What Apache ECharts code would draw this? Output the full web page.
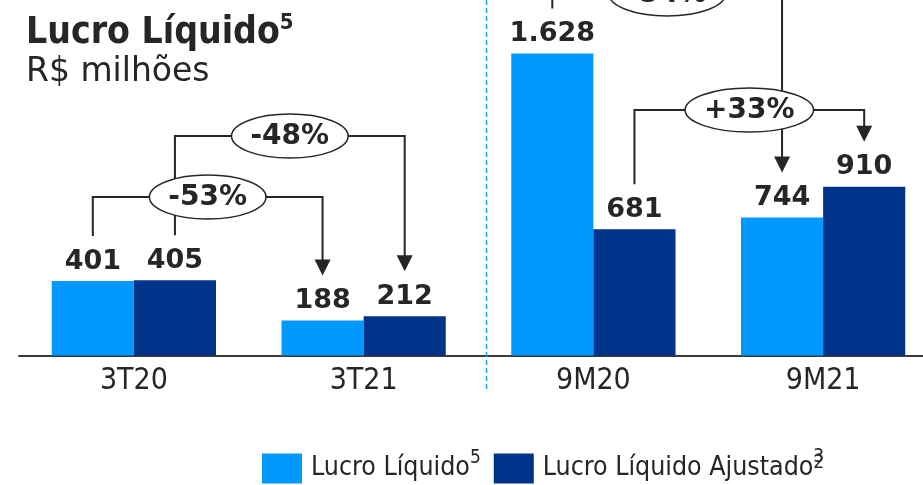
<!DOCTYPE html>
<html>
<head>
<meta charset="utf-8">
<script src="https://cdn.jsdelivr.net/npm/echarts@6/dist/echarts.min.js"></script>
<style>
  html, body { margin: 0; padding: 0; background: #fff; }
  #chart { width: 923px; height: 485px; }
</style>
</head>
<body>
<div id="chart"></div>
<script>
// dados do gráfico
const categories = ['3T20', '3T21', '9M20', '9M21'];
const lucroLiquido = [401, 188, 1628, 744];
const lucroAjustado = [405, 212, 681, 910];
const seriesNames = ['Lucro Líquido', 'Lucro Líquido Ajustado'];
// variações: de [categoria, série] para [categoria, série], nível em R$ milhões
const variations = [
    { label: '-53%', from: [0, 0], to: [1, 0], level: 854 },
    { label: '-48%', from: [0, 1], to: [1, 1], level: 1183 },
    { label: '-54%', from: [2, 0], to: [3, 0], level: 1949 },
    { label: '+33%', from: [2, 1], to: [3, 1], level: 1323 },
];

const colors = ['#0099ff', '#00338a'];
const ink = '#262626';

function fmt(v) {
    return String(v).replace(/\B(?=(\d{3})+(?!\d))/g, '.');
}

const myChart = echarts.init(document.getElementById('chart'), null, { renderer: 'canvas' });

const valueLabel = {
    show: true,
    position: 'top',
    distance: 6,
    formatter: function (p) { return fmt(p.value); },
    fontFamily: 'DejaVu Sans',
    fontWeight: 'bold',
    fontSize: 27,
    color: ink
};

const option = {
    animation: false,
    title: {
        text: 'Lucro Líquido{s|5}',
        subtext: 'R$ milhões',
        left: 21,
        top: 7,
        itemGap: 4,
        textStyle: {
            fontFamily: 'DejaVu Sans Condensed',
            fontWeight: 'bold',
            fontSize: 37,
            color: ink,
            rich: {
                s: { fontFamily: 'DejaVu Sans Condensed', fontWeight: 'bold', fontSize: 22, color: ink, verticalAlign: 'top', lineHeight: 42 }
            }
        },
        subtextStyle: {
            fontFamily: 'DejaVu Sans',
            fontSize: 33,
            color: ink
        }
    },
    legend: {
        left: 257,
        top: 443,
        itemWidth: 40,
        itemHeight: 30,
        itemGap: 13,
        icon: 'rect',
        data: seriesNames,
        formatter: function (name) {
            if (name === seriesNames[0]) return '{t|' + name + '}{s|5}';
            return '{t|' + name + '}{w|3}{s2|2}';
        },
        textStyle: {
            color: ink,
            padding: [0, 0, 0, 4],
            rich: {
                t: { fontFamily: 'DejaVu Sans Condensed', fontSize: 26.5, color: ink },
                s: { fontFamily: 'DejaVu Sans Condensed', fontSize: 19, color: ink, padding: [0, 0, 20, 0] },
                w: { fontFamily: 'DejaVu Sans Condensed', fontSize: 19, color: ink, width: 0, padding: [0, 0, 22, 0] },
                s2: { fontFamily: 'DejaVu Sans Condensed', fontSize: 19, color: ink, padding: [0, 0, 10, 0] }
            }
        }
    },
    grid: {
        left: 19,
        right: -15,
        top: 3,
        bottom: 129.5,
        containLabel: false,
        outerBoundsMode: 'none'
    },
    xAxis: {
        type: 'category',
        data: categories,
        axisLine: { show: true, lineStyle: { color: '#3a3a3a', width: 2 } },
        axisTick: { show: false },
        axisLabel: {
            margin: 11,
            fontFamily: 'DejaVu Sans Condensed',
            fontSize: 30,
            color: ink
        }
    },
    yAxis: {
        type: 'value',
        min: 0,
        max: 1900,
        show: false,
        splitLine: { show: false }
    },
    series: [
        {
            name: seriesNames[0],
            type: 'bar',
            data: lucroLiquido,
            barGap: 0,
            barCategoryGap: '28.5%',
            itemStyle: { color: colors[0] },
            label: valueLabel
        },
        {
            name: seriesNames[1],
            type: 'bar',
            data: lucroAjustado,
            barGap: 0,
            barCategoryGap: '28.5%',
            itemStyle: { color: colors[1] },
            label: valueLabel
        }
    ]
};

myChart.setOption(option);

// posição de uma barra (centro x, topo y) a partir das escalas do gráfico
const allSeries = [lucroLiquido, lucroAjustado];
function barPoint(cat, s) {
    const layout = myChart.getModel().getSeriesByIndex(s).getData().getItemLayout(cat);
    const cx = layout.x + layout.width / 2;
    const top = myChart.convertToPixel({ yAxisIndex: 0 }, allSeries[s][cat]);
    return [cx, top];
}

const measure = document.createElement('canvas').getContext('2d');
const pctFont = 'bold 28px "DejaVu Sans"';
measure.font = pctFont;

const gap = 45;   // distância entre o topo da barra e a seta
const lines = [];
const shapes = [];
variations.forEach(function (v) {
    const a = barPoint(v.from[0], v.from[1]);
    const b = barPoint(v.to[0], v.to[1]);
    const y = myChart.convertToPixel({ yAxisIndex: 0 }, v.level);
    const tipY = b[1] - gap;
    lines.push({
        type: 'polyline',
        z: 10,
        shape: { points: [[a[0], a[1] - gap], [a[0], y], [b[0], y], [b[0], tipY - 14]] },
        style: { stroke: ink, lineWidth: 2, fill: null }
    });
    lines.push({
        type: 'polygon',
        z: 10,
        shape: { points: [[b[0] - 8, tipY - 16], [b[0] + 8, tipY - 16], [b[0], tipY]] },
        style: { fill: ink }
    });
    const cx = (a[0] + b[0]) / 2;
    const tw = measure.measureText(v.label).width;
    shapes.push({
        type: 'ellipse',
        z: 20,
        shape: { cx: cx, cy: y, rx: tw / 2 + 19, ry: 22 },
        style: { fill: '#fff', stroke: ink, lineWidth: 1.5 }
    });
    shapes.push({
        type: 'text',
        z: 21,
        style: {
            text: v.label,
            x: cx,
            y: y + 1,
            align: 'center',
            verticalAlign: 'middle',
            font: pctFont,
            fill: ink
        }
    });
});

// linha tracejada separando trimestre e acumulado
const c1 = myChart.convertToPixel({ xAxisIndex: 0 }, categories[1]);
const c2 = myChart.convertToPixel({ xAxisIndex: 0 }, categories[2]);
const sepX = c1 + (c2 - c1) * 0.535;
const axisY = myChart.convertToPixel({ yAxisIndex: 0 }, 0);
const divider = {
    type: 'line',
    z: 5,
    shape: { x1: sepX, y1: 0, x2: sepX, y2: axisY + 34 },
    style: { stroke: '#1a9cff', lineWidth: 1.5, lineDash: [5, 3] }
};

myChart.setOption({ graphic: [divider].concat(lines, shapes) });
</script>
</body>
</html>
